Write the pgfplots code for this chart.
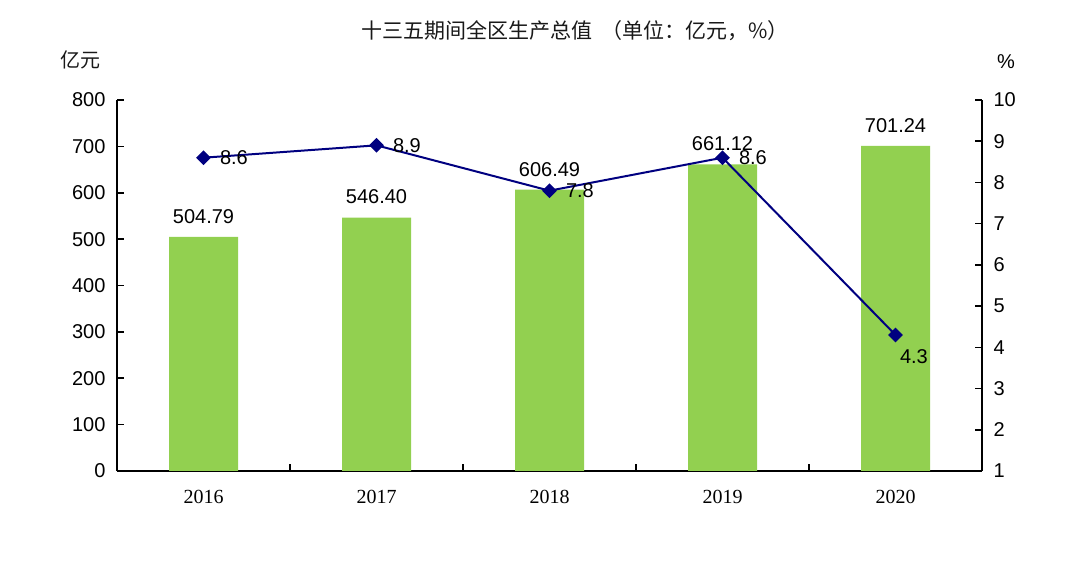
\documentclass[border=0pt]{standalone}
\usepackage{pgfplots}
\pgfplotsset{compat=1.18}
\usepackage{pgfplotstable}
\usepackage{fontspec}
\setmainfont{Liberation Sans}
\newfontfamily\cjk{Noto Sans CJK SC}
\newfontfamily\serifnum{Liberation Serif}
\definecolor{bargreen}{HTML}{92D050}
\definecolor{navyline}{HTML}{000080}

\pgfplotstableread{
x gdp lab
0 504.79 504.79
1 546.40 546.40
2 606.49 606.49
3 661.12 661.12
4 701.24 701.24
}\gdptable
\pgfplotstableread{
x rate
0 8.6
1 8.9
2 7.8
3 8.6
4 4.3
}\ratetable

\newcommand{\numfont}{\fontsize{20}{24}\selectfont}

\pgfplotsset{
  commonaxis/.style={
    at={(117pt,101pt)}, anchor=south west,
    scale only axis, width=865pt, height=371pt,
    xmin=-0.5, xmax=4.5,
    /pgf/number format/assume math mode=true,
    tick align=inside,
    major tick length=7pt,
    tick style={line width=1.6pt, black},
    axis line style={line width=1.6pt, black, -},
    ticklabel style={font=\numfont},
    clip=false,
  }
}

\begin{document}
\begin{tikzpicture}
\path[use as bounding box] (0,0) rectangle (1088pt,572pt);

\begin{axis}[commonaxis,
  ymin=0, ymax=800,
  axis x line*=bottom, axis y line*=left,
  ytick={0,100,...,800},
  yticklabel style={xshift=-8pt},
  xtick={0.5,1.5,2.5,3.5}, xticklabels={},
  major tick length=7pt,
  extra x ticks={0,1,2,3,4},
  extra x tick labels={2016,2017,2018,2019,2020},
  extra x tick style={major tick length=0pt,
    xticklabel style={font=\serifnum\fontsize{20}{24}\selectfont, yshift=-16pt}},
]
\addplot[ybar, bar width=69pt, bar shift=0pt, fill=bargreen, draw=none,
  nodes near coords, point meta=explicit symbolic,
  nodes near coords style={font=\numfont, text=black, anchor=south, yshift=10pt}]
  table[x=x, y=gdp, meta=lab]{\gdptable};
\end{axis}

\begin{axis}[commonaxis,
  ymin=1, ymax=10,
  axis y line*=right, axis x line=none,
  ytick={1,2,...,10},
  yticklabel style={xshift=8pt},
]
\addplot[navyline, line width=2pt, mark=square*, mark size=4.2pt,
  mark options={rotate=45, fill=navyline, solid}]
  table[x=x, y=rate]{\ratetable};
\addplot[draw=none, mark=none, nodes near coords, point meta=explicit symbolic,
  skip coords between index={4}{5},
  nodes near coords style={font=\numfont, text=black, anchor=west, xshift=13pt}]
  table[x=x, y=rate, meta=rate]{\ratetable};
\addplot[draw=none, mark=none, nodes near coords, point meta=explicit symbolic,
  skip coords between index={0}{4},
  nodes near coords style={font=\numfont, text=black, anchor=north west, xshift=1pt, yshift=-11pt}]
  table[x=x, y=rate, meta=rate]{\ratetable};
\end{axis}

\node[font=\cjk\fontsize{21}{25}\selectfont, text=black!90] at (575pt,541pt)
  {十三五期间全区生产总值\ \ （单位：亿元，\%）};
\node[font=\cjk\fontsize{20}{24}\selectfont, text=black!90] at (80pt,512pt) {亿元};
\node[font=\numfont] at (1006pt,510.5pt) {\%};
\end{tikzpicture}
\end{document}
